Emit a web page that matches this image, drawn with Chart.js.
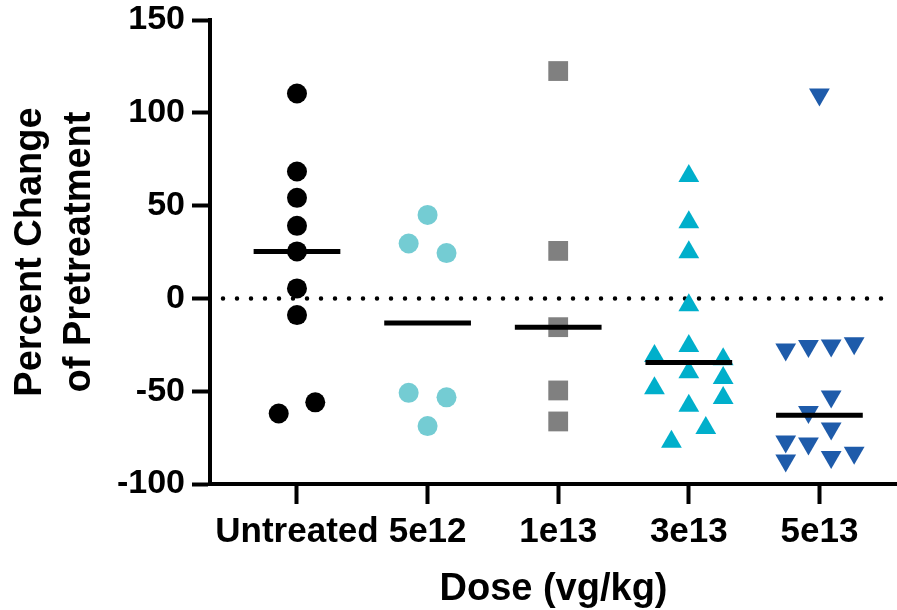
<!DOCTYPE html>
<html>
<head>
<meta charset="utf-8">
<script src="https://cdn.jsdelivr.net/npm/chart.js@4.4.1/dist/chart.umd.min.js"></script>
<style>
  html, body { margin: 0; padding: 0; background: #fff; overflow: hidden; }
  #wrap { width: 897px; height: 610px; }
</style>
</head>
<body>
<div id="wrap"><canvas id="myChart"></canvas></div>
<script>
const doses = ['Untreated', '5e12', '1e13', '3e13', '5e13']
const yTicks = [-100, -50, 0, 50, 100, 150]

// percent change of pretreatment, one array per dose group
const untreated = [110.4, 68.4, 54.2, 39.1, 25.3, 5.4, -9.0, -62.0, -56.0]
const dose5e12 = [45.0, 29.6, 24.4, -50.9, -53.3, -68.8]
const dose1e13 = [122.5, 25.6, -15.5, -49.6, -66.3]
const dose3e13 = [65.9, 41.0, 24.8, -3.7, -25.6, -31.0, -32.8, -39.8, -42.9, -48.4, -53.7, -57.9, -69.8, -77.3]
const dose5e13 = [109.9, -27.5, -25.6, -25.4, -24.1, -52.9, -61.2, -70.1, -77.1, -78.2, -83.2, -85.4, -87.4]
const medians = [25.3, -13.3, -15.5, -34.5, -62.9]

// sideways spread of each point in its column (fraction of a category)
const untreatedSpread = [0, 0, 0, 0, 0, 0, 0, -0.14, 0.14]
const spread5e12 = [0, -0.145, 0.145, -0.145, 0.145, 0]
const spread1e13 = [0, 0, 0, 0, 0]
const spread3e13 = [0, 0, 0, 0, 0, -0.263, 0.263, 0, 0.263, -0.263, 0.263, 0, 0.13, -0.133]
const spread5e13 = [0, -0.258, -0.084, 0.09, 0.266, 0.09, -0.084, 0.09, -0.258, -0.084, 0.266, 0.09, -0.258]

function toPoints(values, spread, index) {
    return values.map((v, i) => ({ x: index + spread[i], y: v }))
}

const groups = [
    { values: untreated, spread: untreatedSpread, color: '#000000', style: 'circle', radius: 10, rotation: 0 },
    { values: dose5e12, spread: spread5e12, color: '#74CCD3', style: 'circle', radius: 10, rotation: 0 },
    { values: dose1e13, spread: spread1e13, color: '#808080', style: 'rect', radius: 14, rotation: 0 },
    { values: dose3e13, spread: spread3e13, color: '#00AFCB', style: 'triangle', radius: 12, rotation: 0 },
    { values: dose5e13, spread: spread5e13, color: '#1E5BAA', style: 'triangle', radius: 12, rotation: 180 }
]

const medianHalf = 0.332
const datasets = []
groups.forEach((g, i) => {
    datasets.push({
        label: doses[i],
        data: toPoints(g.values, g.spread, i),
        backgroundColor: g.color,
        borderWidth: 0,
        pointStyle: g.style,
        pointRadius: g.radius,
        pointRotation: g.rotation,
        order: 2
    })
})
medians.forEach((m, i) => {
    datasets.push({
        label: 'median ' + doses[i],
        data: [{ x: i - medianHalf, y: m }, { x: i + medianHalf, y: m }],
        showLine: true,
        borderColor: '#000',
        borderWidth: 5,
        borderCapStyle: 'butt',
        pointRadius: 0,
        order: 1
    })
})

// dotted reference line at zero, drawn behind the points
const zeroLine = {
    id: 'zeroLine',
    beforeDatasetsDraw(chart) {
        const { ctx, chartArea, scales } = chart
        const y = scales.y.getPixelForValue(0)
        ctx.save()
        ctx.strokeStyle = '#000'
        ctx.lineWidth = 4.5
        ctx.lineCap = 'round'
        ctx.setLineDash([0, 14])
        ctx.beginPath()
        ctx.moveTo(chartArea.left + 13, y)
        ctx.lineTo(chartArea.right - 6, y)
        ctx.stroke()
        ctx.restore()
    }
}

const xTickFont = { family: 'Liberation Sans', size: 35, weight: 'bold' }
const yTickFont = { family: 'Liberation Sans', size: 34, weight: 'bold' }
const yTitleFont = { family: 'Liberation Sans', size: 38, weight: 'bold', lineHeight: 1.29 }
const xTitleFont = { family: 'Liberation Sans', size: 38, weight: 'bold', lineHeight: 1.1 }

new Chart(document.getElementById('myChart'), {
    type: 'scatter',
    data: { datasets: datasets },
    plugins: [zeroLine],
    options: {
        responsive: true,
        maintainAspectRatio: false,
        animation: false,
        layout: { autoPadding: false, padding: { top: 20, right: 0, bottom: 0, left: 0 } },
        plugins: {
            legend: { display: false },
            tooltip: { enabled: false }
        },
        scales: {
            x: {
                type: 'linear',
                min: -0.666,
                max: 4.594,
                afterBuildTicks: scale => {
                    scale.ticks = doses.map((d, i) => ({ value: i }))
                },
                afterFit: scale => {
                    scale.height = 126
                    scale.paddingLeft = 0
                    scale.paddingRight = 0
                },
                ticks: {
                    color: '#000',
                    font: xTickFont,
                    padding: 7,
                    autoSkip: false,
                    maxRotation: 0,
                    callback: value => doses[value]
                },
                grid: {
                    drawOnChartArea: false,
                    tickLength: 20,
                    tickWidth: 4,
                    tickColor: '#000'
                },
                border: { color: '#000', width: 4 },
                title: {
                    display: true,
                    text: 'Dose (vg/kg)',
                    color: '#000',
                    font: xTitleFont,
                    padding: { top: 0, bottom: 0 }
                }
            },
            y: {
                min: -100,
                max: 150,
                afterBuildTicks: scale => {
                    scale.ticks = yTicks.map(v => ({ value: v }))
                },
                afterFit: scale => {
                    scale.width = 210
                    scale.paddingTop = 0
                    scale.paddingBottom = 0
                },
                ticks: {
                    color: '#000',
                    font: yTickFont,
                    padding: 7
                },
                grid: {
                    drawOnChartArea: false,
                    tickLength: 18,
                    tickWidth: 4,
                    tickColor: '#000'
                },
                border: { color: '#000', width: 4 },
                title: {
                    display: true,
                    text: ['Percent Change', 'of Pretreatment'],
                    color: '#000',
                    font: yTitleFont,
                    padding: { top: 6, bottom: 0 }
                }
            }
        }
    }
})
</script>
</body>
</html>
